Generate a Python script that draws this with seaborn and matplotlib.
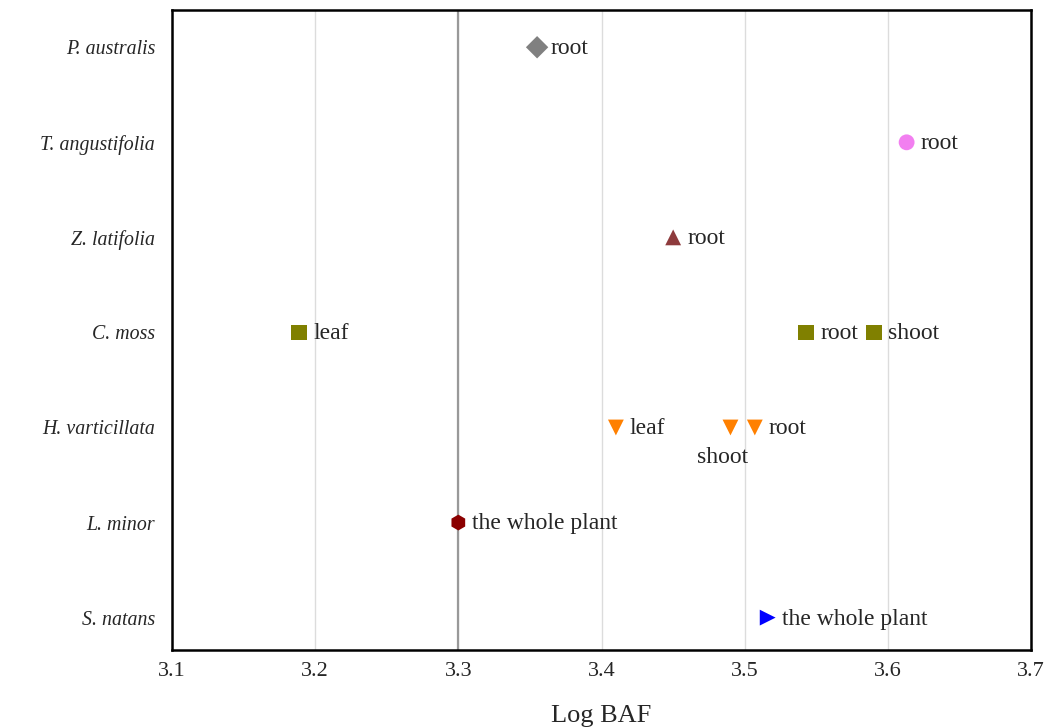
import numpy as np
import pandas as pd
import seaborn as sns
import matplotlib.pyplot as plt

species = ["P. australis", "T. angustifolia", "Z. latifolia", "C. moss",
           "H. varticillata", "L. minor", "S. natans"]

# one row per point
point_species = ["P. australis", "T. angustifolia", "Z. latifolia",
                 "C. moss", "C. moss", "C. moss",
                 "H. varticillata", "H. varticillata", "H. varticillata",
                 "L. minor", "S. natans"]
point_part = ["root", "root", "root",
              "leaf", "root", "shoot",
              "leaf", "shoot", "root",
              "the whole plant", "the whole plant"]
log_baf = [3.355, 3.613, 3.450,
           3.189, 3.543, 3.590,
           3.410, 3.490, 3.507,
           3.300, 3.516]

markers = {"P. australis": "D", "T. angustifolia": "o", "Z. latifolia": "^",
           "C. moss": "s", "H. varticillata": "v", "L. minor": "h",
           "S. natans": ">"}
colors = {"P. australis": "#808080", "T. angustifolia": "#f27ff0",
          "Z. latifolia": "#8e3b3d", "C. moss": "#808000",
          "H. varticillata": "#ff8000", "L. minor": "#8b0000",
          "S. natans": "#0000ff"}

df = pd.DataFrame({"species": point_species, "part": point_part, "baf": log_baf})
df["species"] = pd.Categorical(df["species"], categories=species, ordered=True)

sns.set_style("white")
plt.rcParams["font.family"] = ["Liberation Serif", "DejaVu Serif"]

fig = plt.figure(figsize=(10.48, 7.27), dpi=100)
ax = fig.add_axes([0.164, 0.106, 0.82, 0.880])

ax.set_xlim(3.1, 3.7)
ax.set_ylim(6.34, -0.39)
ax.set_xticks(np.arange(3.1, 3.71, 0.1))
ax.grid(axis="x", color="#dcdcdc", linewidth=1)
ax.set_axisbelow(True)
ax.axvline(3.3, color="#999999", linewidth=1.6, zorder=1)

ypos = df["species"].cat.codes
sns.scatterplot(x=df["baf"], y=ypos, hue=df["species"], style=df["species"],
                markers=markers, palette=colors, s=130, edgecolor="none",
                legend=False, ax=ax, zorder=3)

for x, y, part, sp in zip(df["baf"], ypos, df["part"], df["species"]):
    if sp == "H. varticillata" and part == "shoot":
        ax.annotate(part, (x, y), xytext=(-6, -14), textcoords="offset points",
                    ha="center", va="top", fontsize=17)
    else:
        ax.annotate(part, (x, y), xytext=(10, -1), textcoords="offset points",
                    ha="left", va="center", fontsize=17)

ax.set_yticks(range(len(species)))
ax.set_yticklabels(species, fontstyle="italic", fontsize=14.3)
ax.set_xticklabels([f"{v:.1f}" for v in np.arange(3.1, 3.71, 0.1)], fontsize=16)
ax.tick_params(axis="x", direction="out", length=4, width=1.5, color="black", pad=5)
ax.tick_params(axis="y", length=0, pad=12)
ax.set_xlabel("Log BAF", fontsize=19, labelpad=17)
ax.set_ylabel("")
for s in ax.spines.values():
    s.set_color("black")
    s.set_linewidth(1.8)

fig.savefig("out.png", dpi=100)
